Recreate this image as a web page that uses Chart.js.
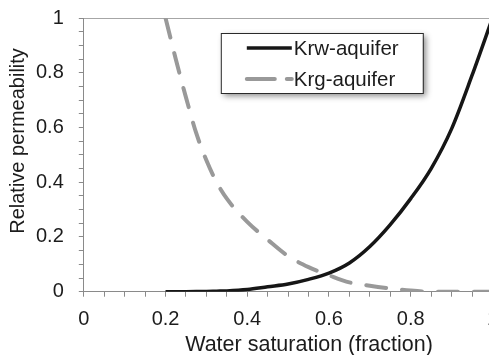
<!DOCTYPE html>
<html>
<head>
<meta charset="utf-8">
<script src="https://cdn.jsdelivr.net/npm/chart.js@4"></script>
<style>
  html, body { margin: 0; padding: 0; background: #fff; overflow: hidden; }
  #wrap { position: relative; width: 509px; height: 369px; margin-top: -9px; }
</style>
</head>
<body>
<div id="wrap"><canvas id="kr"></canvas></div>
<script>
// Relatieve permeabiliteit aquifer.
const SW = [0.2, 0.225, 0.25, 0.275, 0.3, 0.325, 0.35, 0.4, 0.45, 0.5, 0.55, 0.6, 0.65, 0.7, 0.75, 0.8, 0.85, 0.9, 0.95, 1.0];
const KRW = [0, 0, 0, 0.0003, 0.001, 0.002, 0.003, 0.008, 0.018, 0.028, 0.045, 0.068, 0.105, 0.165, 0.245, 0.34, 0.45, 0.595, 0.79, 1.0];
const KRG = [1.0, 0.85, 0.71, 0.58, 0.48, 0.4, 0.34, 0.255, 0.19, 0.13, 0.09, 0.06, 0.034, 0.022, 0.012, 0.004, 0, 0, 0, 0];
const MAJOR = [0, 0.2, 0.4, 0.6, 0.8, 1];

const BLACK = "#161616";
const GREY = "#999999";
const AXIS = "#8a8a8a";
const TEXT = "#1c1c1c";
const FONT = "'Liberation Sans', Arial, sans-serif";

function pts(ys) {
  return SW.map((x, i) => ({ x, y: ys[i] }));
}

function majorLabel(v) {
  const r = Math.round(v * 100) / 100;
  return MAJOR.some((m) => Math.abs(m - r) < 1e-6) ? String(r) : "";
}

// legenda in het plotvlak, met schaduw zoals Excel
const boxLegend = {
  id: "boxLegend",
  afterDatasetsDraw(chart) {
    const { ctx, chartArea } = chart;
    const x = chartArea.left + 137;
    const y = chartArea.top + 15;
    const w = 202;
    const h = 60;
    ctx.save();
    ctx.shadowColor = "rgba(0,0,0,0.45)";
    ctx.shadowBlur = 6;
    ctx.shadowOffsetX = 3;
    ctx.shadowOffsetY = 3;
    ctx.fillStyle = "#fff";
    ctx.fillRect(x, y, w, h);
    ctx.shadowColor = "transparent";
    ctx.strokeStyle = "#2a2a2a";
    ctx.lineWidth = 1;
    ctx.strokeRect(x + 0.5, y + 0.5, w, h);
    chart.data.datasets.forEach((ds, i) => {
      const cy = y + 15 + i * 31;
      ctx.beginPath();
      ctx.strokeStyle = ds.borderColor;
      ctx.lineWidth = ds.borderWidth;
      ctx.lineCap = ds.borderCapStyle || "butt";
      ctx.setLineDash(ds.legendDash || []);
      ctx.moveTo(x + 26, cy);
      ctx.lineTo(x + 71, cy);
      ctx.stroke();
      ctx.setLineDash([]);
      ctx.fillStyle = TEXT;
      ctx.font = "20.5px " + FONT;
      ctx.textBaseline = "middle";
      ctx.fillText(ds.label, x + 73, cy + 1);
    });
    ctx.restore();
  },
};

new Chart(document.getElementById("kr"), {
  type: "line",
  data: {
    datasets: [
      {
        label: "Krw-aquifer",
        data: pts(KRW),
        borderColor: BLACK,
        borderWidth: 3.5,
        pointRadius: 0,
        cubicInterpolationMode: "monotone",
        borderCapStyle: "butt",
      },
      {
        label: "Krg-aquifer",
        data: pts(KRG),
        borderColor: GREY,
        borderWidth: 4,
        borderDash: [20, 16],
        legendDash: [28, 12],
        pointRadius: 0,
        cubicInterpolationMode: "monotone",
        borderCapStyle: "round",
      },
    ],
  },
  options: {
    responsive: true,
    maintainAspectRatio: false,
    animation: false,
    layout: { padding: { top: 0, left: 0, right: 0, bottom: 2 } },
    plugins: { legend: { display: false }, tooltip: { enabled: false } },
    scales: {
      x: {
        type: "linear",
        min: 0,
        max: 1,
        border: { color: AXIS, width: 1 },
        grid: { drawOnChartArea: false, tickLength: 5, tickColor: AXIS },
        ticks: {
          stepSize: 0.05,
          autoSkip: false,
          maxRotation: 0,
          padding: 11,
          color: TEXT,
          font: { family: FONT, size: 20 },
          callback: (v) => majorLabel(v),
        },
        title: {
          display: true,
          text: "       Water saturation (fraction)",
          color: TEXT,
          font: { family: FONT, size: 21.5 },
          padding: { top: -10.5, bottom: 0 },
        },
      },
      y: {
        min: 0,
        max: 1,
        border: { color: AXIS, width: 1 },
        grid: {
          color: (c) => (c.tick && c.tick.value === 1 ? "#a6a6a6" : "transparent"),
          tickLength: 5,
          tickColor: AXIS,
        },
        ticks: {
          stepSize: 0.05,
          autoSkip: false,
          padding: 15,
          color: TEXT,
          font: { family: FONT, size: 20 },
          callback: (v) => majorLabel(v),
        },
        title: {
          display: true,
          text: "     Relative permeability",
          color: TEXT,
          font: { family: FONT, size: 20 },
          padding: { top: 6, bottom: -9 },
        },
      },
    },
  },
  plugins: [boxLegend],
});
</script>
</body>
</html>
